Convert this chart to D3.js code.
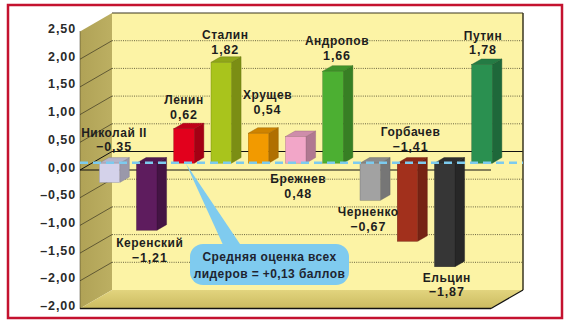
<!DOCTYPE html>
<html>
<head>
<meta charset="utf-8">
<script src="https://cdn.jsdelivr.net/npm/d3@7"></script>
<style>
  html, body { margin: 0; padding: 0; background: #ffffff; }
  svg { display: block; }
  text { font-family: "Liberation Sans", Arial, Helvetica, sans-serif; font-weight: bold; }
</style>
</head>
<body>
<svg id="chart" width="569" height="325"></svg>
<script>
// Ratings of Russian leaders (score scale −2.5 … +2.5)
const leaders = ["Николай II", "Керенский", "Ленин", "Сталин", "Хрущев", "Брежнев",
                 "Андропов", "Черненко", "Горбачев", "Ельцин", "Путин"];
const scores = [-0.35, -1.21, 0.62, 1.82, 0.54, 0.48, 1.66, -0.67, -1.41, -1.87, 1.78];
const barColors = ["#d4d2ea", "#5e1c5e", "#e2001c", "#a9c41c", "#f29a00", "#f2a6c8",
                   "#4caf32", "#a2a2a2", "#a2301c", "#363636", "#2a9050"];
const tickValues = [2.5, 2, 1.5, 1, 0.5, 0, -0.5, -1, -1.5, -2, -2.5];
const tickLabels = ["2,50", "2,00", "1,50", "1,00", "0,50", "0,00",
                    "–0,50", "–1,00", "–1,50", "–2,00", "–2,00"];
const average = 0.13;
const calloutLines = ["Средняя оценка всех", "лидеров = +0,13 баллов"];

// Label placement: [dx from bar centre, dy from bar end] for the name line
const labelOffsets = [[4.5, -50], [3, 13], [0, -28.5], [4, -27], [9, -38], [2.5, 42.5],
                      [4, -30], [-2, 12], [3, -109], [2, 11], [1, -29]];

const svg = d3.select("#chart");

// 3D box geometry
const DX = 32, DY = -18.5;           // full depth offset of the box
const wallLeft = 80, wallRight = 491; // front plane x extent
const barPlane = 0.37;               // depth of the bar front faces (0 = front, 1 = back)
const barDepth = 0.3;                // bar thickness in depth units

const yFront = d3.scaleLinear().domain([-2.5, 2.5]).range([308.5, 31.5]);
const yBack = v => yFront(v) + DY;
const yBar = d3.scaleLinear().domain([-2.5, 2.5])
  .range([308.5 + barPlane * DY, 31.5 + barPlane * DY]);
const x = d3.scaleBand().domain(leaders).range([99.25, 492.25])
  .paddingInner(0.45).paddingOuter(0);

const fmt = v => d3.format(".2f")(v).replace(".", ",").replace("-", "–");

// Frame
svg.append("rect").attr("x", 8).attr("y", 5).attr("width", 554).attr("height", 313)
  .attr("fill", "#ffffff").attr("stroke", "#c4122f").attr("stroke-width", 2.5);

const defs = svg.append("defs");
const floorGrad = defs.append("linearGradient").attr("id", "floorGrad")
  .attr("x1", 0).attr("y1", 0).attr("x2", 0).attr("y2", 1);
floorGrad.append("stop").attr("offset", 0).attr("stop-color", "#e2d47e");
floorGrad.append("stop").attr("offset", 1).attr("stop-color", "#cbbb60");
const wallGrad = defs.append("linearGradient").attr("id", "wallGrad")
  .attr("x1", 0).attr("y1", 0).attr("x2", 1).attr("y2", 0);
wallGrad.append("stop").attr("offset", 0).attr("stop-color", "#b0a256");
wallGrad.append("stop").attr("offset", 1).attr("stop-color", "#bcaf62");

const yTop = yFront(2.5), yBottom = yFront(-2.5);
const poly = pts => pts.map(p => p.join(",")).join(" ");

// Back wall
svg.append("polygon")
  .attr("points", poly([[wallLeft + DX, yTop + DY], [wallRight + DX, yTop + DY],
                        [wallRight + DX, yBottom + DY], [wallLeft + DX, yBottom + DY]]))
  .attr("fill", "#fcf3a5");
// Left wall
svg.append("polygon")
  .attr("points", poly([[wallLeft, yTop], [wallLeft + DX, yTop + DY],
                        [wallLeft + DX, yBottom + DY], [wallLeft, yBottom]]))
  .attr("fill", "url(#wallGrad)");
// Floor
svg.append("polygon")
  .attr("points", poly([[wallLeft, yBottom], [wallLeft + DX, yBottom + DY],
                        [wallRight + DX, yBottom + DY], [wallRight, yBottom]]))
  .attr("fill", "url(#floorGrad)");

// Grid lines on back and left walls
const inner = tickValues.filter(v => v < 2.5 && v > -2.5);
svg.append("g").selectAll("line").data(inner.filter(v => v !== 0)).join("line")
  .attr("x1", wallLeft + DX).attr("x2", wallRight + DX)
  .attr("y1", yBack).attr("y2", yBack)
  .attr("stroke", "#6a6440").attr("stroke-width", 1).attr("stroke-dasharray", "1,1.2");
svg.append("g").selectAll("line").data(inner).join("line")
  .attr("x1", wallLeft).attr("x2", wallLeft + DX)
  .attr("y1", yFront).attr("y2", yBack)
  .attr("stroke", v => v === 0 ? "#111" : "#4a4428").attr("stroke-width", v => v === 0 ? 1 : 0.8);
// Zero line on back wall
svg.append("line").attr("x1", wallLeft + DX).attr("x2", wallRight + DX)
  .attr("y1", yBack(0)).attr("y2", yBack(0)).attr("stroke", "#111").attr("stroke-width", 1.2);

// Box edges
svg.append("line").attr("x1", wallLeft + DX).attr("x2", wallRight + DX)
  .attr("y1", yTop + DY).attr("y2", yTop + DY).attr("stroke", "#3a3620").attr("stroke-width", 1.2);
svg.append("line").attr("x1", wallRight + DX).attr("x2", wallRight + DX)
  .attr("y1", yTop + DY).attr("y2", yBottom + DY).attr("stroke", "#3a3620").attr("stroke-width", 1.5);
svg.append("line").attr("x1", wallLeft).attr("x2", wallRight)
  .attr("y1", yBottom).attr("y2", yBottom).attr("stroke", "#111").attr("stroke-width", 1.6);
svg.append("line").attr("x1", wallRight).attr("x2", wallRight + DX)
  .attr("y1", yBottom).attr("y2", yBottom + DY).attr("stroke", "#111").attr("stroke-width", 1.2);
svg.append("line").attr("x1", wallLeft).attr("x2", wallLeft)
  .attr("y1", yTop).attr("y2", yBottom).attr("stroke", "#3a3620").attr("stroke-width", 1)
  .attr("stroke-dasharray", "1,1");

// Front zero line
svg.append("line").attr("x1", wallLeft).attr("x2", wallRight)
  .attr("y1", yFront(0)).attr("y2", yFront(0)).attr("stroke", "#111").attr("stroke-width", 1.2);

// Axis labels
svg.append("g").selectAll("text").data(tickValues).join("text")
  .attr("x", 76).attr("y", v => yFront(v) - 2.5)
  .attr("text-anchor", "end").attr("dominant-baseline", "central")
  .attr("font-size", 12.5).attr("letter-spacing", 0.9).attr("fill", "#2a2a2a")
  .text((v, i) => tickLabels[i]);

// Bars as 3D boxes
const bdx = barDepth * DX, bdy = barDepth * DY;
const bars = svg.append("g").selectAll("g").data(leaders).join("g");
bars.each(function (name, i) {
  const g = d3.select(this);
  const v = scores[i];
  const x0 = x(name), w = x.bandwidth();
  const yt = Math.min(yBar(0), yBar(v)), yb = Math.max(yBar(0), yBar(v));
  const c = d3.color(barColors[i]);
  const side = c.darker(0.9).formatHex(), topc = c.darker(0.45).formatHex();
  g.append("polygon")
    .attr("points", poly([[x0 + w, yt], [x0 + w + bdx, yt + bdy], [x0 + w + bdx, yb + bdy], [x0 + w, yb]]))
    .attr("fill", side).attr("stroke", c.darker(1.4).formatHex()).attr("stroke-width", 0.4);
  g.append("polygon")
    .attr("points", poly([[x0, yt], [x0 + bdx, yt + bdy], [x0 + w + bdx, yt + bdy], [x0 + w, yt]]))
    .attr("fill", topc).attr("stroke", c.darker(1.4).formatHex()).attr("stroke-width", 0.4);
  g.append("rect").attr("x", x0).attr("y", yt).attr("width", w).attr("height", yb - yt)
    .attr("fill", c.formatHex()).attr("stroke", c.darker(1.2).formatHex()).attr("stroke-width", 0.4);
});

// Average reference line
svg.append("line").attr("x1", wallLeft).attr("x2", wallRight + DX)
  .attr("y1", yFront(average)).attr("y2", yFront(average))
  .attr("stroke", "#7ccbef").attr("stroke-width", 2.4).attr("stroke-dasharray", "8,5");

// Bar labels
const labels = svg.append("g").selectAll("g").data(leaders).join("g")
  .attr("transform", (name, i) => {
    const cx = x(name) + x.bandwidth() / 2 + labelOffsets[i][0];
    const cy = yBar(scores[i]) + labelOffsets[i][1];
    return `translate(${cx},${cy})`;
  });
labels.append("text").attr("text-anchor", "middle").attr("dominant-baseline", "central")
  .attr("font-size", 12).attr("letter-spacing", 0.5).attr("fill", "#1e1e1e")
  .text(d => d);
labels.append("text").attr("y", 14.5).attr("text-anchor", "middle").attr("dominant-baseline", "central")
  .attr("font-size", 12.5).attr("letter-spacing", 0.9).attr("fill", "#1e1e1e")
  .text((d, i) => fmt(scores[i]));

// Callout for the average
const tipX = 186, tipY = yFront(average) + 1;
const box = { x: 190, y: 244, w: 159, h: 41, r: 13 };
const callout = svg.append("g");
callout.append("polygon")
  .attr("points", poly([[tipX, tipY], [box.x + 34, box.y + 3], [box.x + 52, box.y + 3]]))
  .attr("fill", "#7fcbef");
callout.append("rect").attr("x", box.x).attr("y", box.y).attr("width", box.w).attr("height", box.h)
  .attr("rx", box.r).attr("fill", "#7fcbef");
callout.selectAll("text").data(calloutLines).join("text")
  .attr("x", box.x + box.w / 2).attr("y", (d, i) => box.y + 13 + i * 17)
  .attr("text-anchor", "middle").attr("dominant-baseline", "central")
  .attr("font-size", 12).attr("letter-spacing", 0.4).attr("fill", "#1e2430")
  .text(d => d);
</script>
</body>
</html>
